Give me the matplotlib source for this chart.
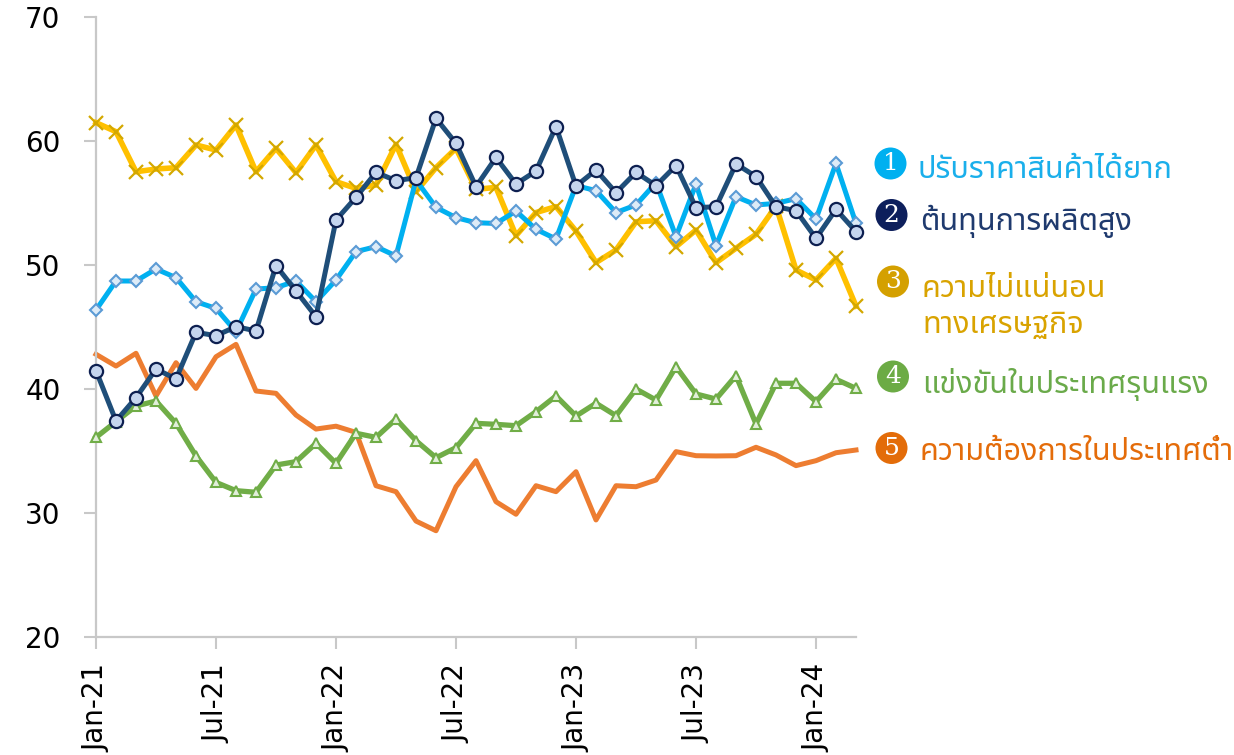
import matplotlib
matplotlib.use("Agg")
import matplotlib.pyplot as plt
import numpy as np
from matplotlib import font_manager
from matplotlib.ft2font import FT2Font
from matplotlib.patches import Ellipse

# ---------------- data ----------------
months = ["Jan-21", "Jul-21", "Jan-22", "Jul-22", "Jan-23", "Jul-23", "Jan-24"]
month_pos = [0, 6, 12, 18, 24, 30, 36]

s1_price = [46.37, 48.71, 48.71, 49.68, 48.98, 47.04, 46.5, 44.62, 48.06, 48.17, 48.71, 47.04, 48.79, 51.08,
            51.48, 50.73, 56.85, 54.65, 53.82, 53.41, 53.35, 54.35, 52.88, 52.1, 56.4, 56.0,
            54.23, 54.84, 56.64, 52.29, 56.53, 51.56, 55.51, 54.84, 54.97, 55.35, 53.71, 58.19, 53.35]
s2_cost = [41.48, 37.42, 39.3, 41.61, 40.81, 44.57, 44.3, 45.03, 44.68, 49.95, 47.9, 45.83, 53.63,
           55.46, 57.47, 56.8, 57.04, 61.83, 59.81, 56.32, 58.67, 56.53, 57.58, 61.16, 56.37, 57.66,
           55.83, 57.47, 56.4, 58.02, 54.62, 54.7, 58.15, 57.13, 54.7, 54.38, 52.15, 54.49, 52.69]
s3_uncert = [61.48, 60.75, 57.52, 57.74, 57.85, 59.68, 59.27, 61.29, 57.52, 59.41, 57.44, 59.68, 56.72, 56.18,
             56.45, 59.73, 55.92, 57.85, 59.41, 56.1, 56.26, 52.37, 54.23, 54.71, 52.74, 50.2,
             51.21, 53.49, 53.57, 51.48, 52.82, 50.19, 51.35, 52.47, 54.76, 49.6, 48.79, 50.54, 46.69]
s4_compet = [36.1, 37.37, 38.63, 39.03, 37.23, 34.6, 32.47, 31.8, 31.67, 33.87, 34.14, 35.62, 34.0, 36.43,
             36.1, 37.58, 35.83, 34.46, 35.27, 37.23, 37.15, 37.04, 38.17, 39.44, 37.82, 38.85,
             37.85, 40.0, 39.11, 41.8, 39.6, 39.19, 41.08, 37.18, 40.46, 40.46, 38.98, 40.78, 40.05]
s5_demand = [42.8, 41.85, 42.88, 39.44, 42.12, 40.05, 42.6, 43.6, 39.84, 39.65, 37.9, 36.77, 37.0, 36.5,
             32.2, 31.72, 29.35, 28.57, 32.12, 34.22, 30.91, 29.9, 32.2, 31.72, 33.33, 29.44,
             32.2, 32.12, 32.66, 34.95, 34.62, 34.6, 34.62, 35.3, 34.68, 33.82, 34.22, 34.86, 35.08]

labels = ["ปรับราคาสินค้าได้ยาก", "ต้นทุนการผลิตสูง", "ความไม่แน่นอน\nทางเศรษฐกิจ",
          "แข่งขันในประเทศรุนแรง", "ความต้องการในประเทศต่ำ"]
numbers = ["1", "2", "3", "4", "5"]


# ---------------- find a Thai-capable font ----------------
def find_thai_font():
    prefs = ["Noto Sans Thai", "Noto Sans Thai UI", "Noto Sans Thai Looped", "Sarabun", "Tahoma",
             "Leelawadee UI", "Loma", "Garuda", "Kinnari", "Waree", "Umpush", "Tlwg Typo", "Norasi"]
    found = {}
    for f in font_manager.fontManager.ttflist:
        try:
            ft = FT2Font(f.fname)
            if ft.get_char_index(0x0E01) and ft.get_char_index(0x0E32) and ft.get_char_index(0x0E19):
                found.setdefault(f.name, f)
        except Exception:
            pass
    for p in prefs:
        if p in found:
            return p
    return next(iter(found), None)


thai = find_thai_font()
thai_family = ([thai] if thai else []) + ["Noto Sans", "DejaVu Sans"]

plt.rcParams["font.family"] = ["DejaVu Sans"]

W, H = 1234, 755
fig = plt.figure(figsize=(W / 100, H / 100), dpi=100)
ax = fig.add_axes([96 / W, 1 - 637 / H, (856 - 96) / W, (637 - 17) / H])

x = np.arange(len(s1_price))

ax.plot(x, s5_demand, color="#ED7D31", lw=3.6, zorder=2, clip_on=False)
ax.plot(x, s4_compet, color="#70AD47", lw=3.8, marker="^", ms=7, mfc="#E2EFDA", mec="#70AD47",
        mew=1.5, zorder=3, clip_on=False)
ax.plot(x, s3_uncert, color="#FFC000", lw=4.0, marker="x", ms=10, mec="#D4A800", mew=1.6,
        zorder=4, clip_on=False)
ax.plot(x, s1_price, color="#00B0F0", lw=3.6, marker="D", ms=6, mfc="#DDEBF7", mec="#5B9BD5",
        mew=1.5, zorder=5, clip_on=False)
ax.plot(x, s2_cost, color="#1F4E79", lw=3.6, marker="o", ms=9.5, mfc="#C5D5EE", mec="#0D1F50",
        mew=1.6, zorder=6, clip_on=False)

ax.set_xlim(0, 38)
ax.set_ylim(20, 70)
ax.set_yticks([20, 30, 40, 50, 60, 70])
ax.set_xticks(month_pos)
ax.set_xticklabels(months, rotation=90)

for sp in ["top", "right"]:
    ax.spines[sp].set_visible(False)
for sp in ["left", "bottom"]:
    ax.spines[sp].set_color("#C8C8C8")
    ax.spines[sp].set_linewidth(1.6)
ax.tick_params(axis="y", length=8.5, width=1.5, color="#C8C8C8", pad=17, labelsize=20)
ax.tick_params(axis="x", length=8.5, width=1.5, color="#C8C8C8", pad=11, labelsize=20)

# ---------------- custom legend ----------------
circle_cols = ["#00B0F0", "#0D1F5C", "#D4A000", "#6CAB45", "#E36C09"]
text_cols = ["#1AAFEB", "#1F3A6E", "#D9A300", "#6AAA4A", "#E46C0A"]
circle_xy = [(890.5, 163.5), (891.5, 215), (893, 281.5), (893, 376.5), (891.5, 448)]
text_xy = [(917, 178), (920, 230), (922, 297), (922, 393), (920, 460)]
diam = 32

for i in range(5):
    cx, cy = circle_xy[i]
    fig.add_artist(Ellipse((cx / W, 1 - cy / H), diam / W, diam / H, transform=fig.transFigure,
                           facecolor=circle_cols[i], edgecolor="none"))
    fig.text(cx / W, 1 - cy / H, numbers[i], color="white", fontsize=18, ha="center", va="center",
             family=["DejaVu Serif"])
    tx, ty = text_xy[i]
    lines = labels[i].split("\n")
    for j, ln in enumerate(lines):
        fig.text(tx / W, 1 - (ty + j * 36) / H, ln, color=text_cols[i], fontsize=22,
                 ha="left", va="baseline", family=thai_family)

fig.savefig("out.png", dpi=100)
